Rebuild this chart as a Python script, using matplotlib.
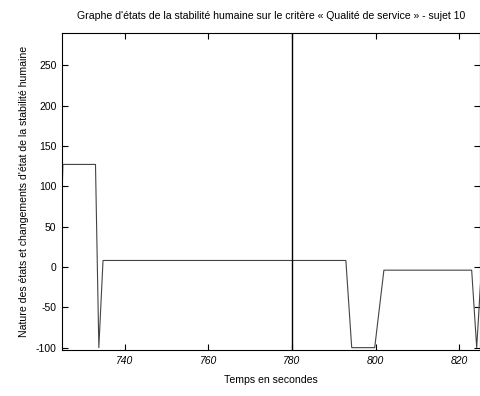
import matplotlib
matplotlib.use("Agg")
import matplotlib.pyplot as plt

plt.rcParams['font.family'] = ['Liberation Sans', 'DejaVu Sans']
plt.rcParams['axes.unicode_minus'] = False

# instants (s) et niveaux d'état
temps = [724.0, 725.2, 733.0, 733.8, 734.8, 792.9, 794.3, 799.8, 802.0, 823.0, 824.2, 825.3]
etats = [-100, 127, 127, -100, 8, 8, -100, -100, -4, -4, -100, -4]
marque = 780  # changement d'état marqué

xticks = [740, 760, 780, 800, 820]
yticks = [-100, -50, 0, 50, 100, 150, 200, 250]

fig = plt.figure(figsize=(4.81, 3.96), dpi=100)
ax = fig.add_axes([0.129, 0.116, 0.869, 0.801])

ax.plot(temps, etats, color='#444444', lw=0.8)
ax.axvline(marque, color='black', lw=1.0)

ax.set_xlim(725, 825)
ax.set_ylim(-103, 290)
ax.set_xticks(xticks)
ax.set_yticks(yticks)
ax.tick_params(direction='in', length=4, width=0.8, top=True, right=True,
               labelsize=7.5, pad=4)
for lab in ax.get_xticklabels():
    lab.set_style('italic')
for s in ax.spines.values():
    s.set_linewidth(0.8)

ax.set_title("Graphe d'états de la stabilité humaine sur le critère « Qualité de service » - sujet 10",
             fontsize=7.6, pad=10)
ax.set_xlabel("Temps en secondes", fontsize=7.6, labelpad=7)
ax.set_ylabel("Nature des états et changements d'état de la stabilité humaine", fontsize=7.6, labelpad=5)

fig.savefig("out.png", dpi=100)
